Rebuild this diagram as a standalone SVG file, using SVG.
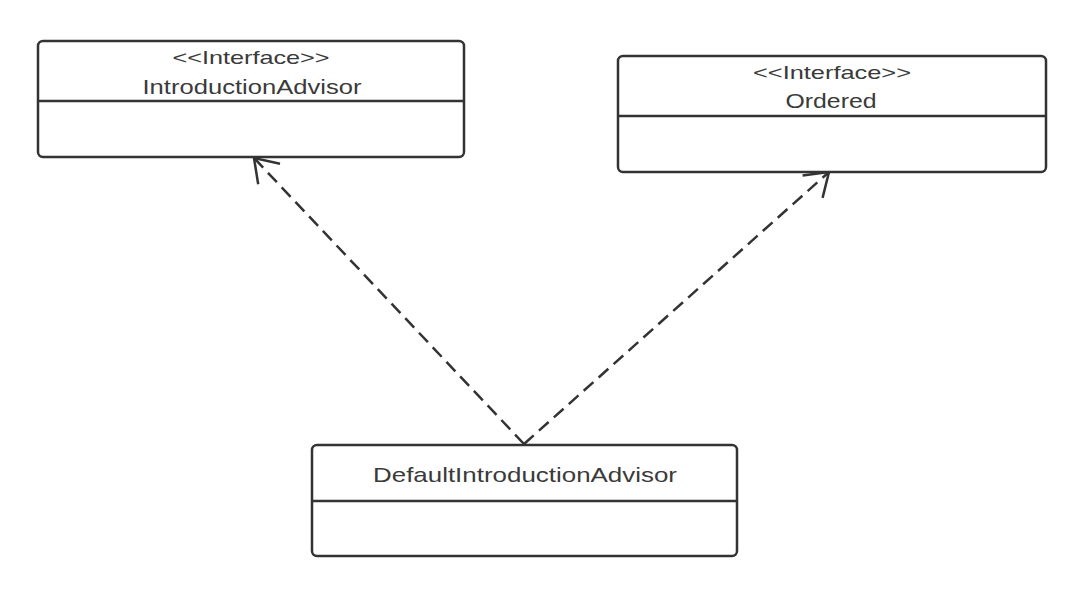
<svg xmlns="http://www.w3.org/2000/svg" width="1068" height="606" viewBox="0 0 1068 606">
<style>
.box{fill:#fff;stroke:#333;stroke-width:2.5}
.div{stroke:#333;stroke-width:2.5}
.t{font-family:"Liberation Sans",Arial,sans-serif;font-size:20px;fill:#3a3a3a;text-anchor:middle}
.st{font-size:18.5px}
.edge{fill:none;stroke:#333;stroke-width:2.5;stroke-dasharray:13 7}
</style>
<defs>
<marker id="open" markerUnits="userSpaceOnUse" markerWidth="40" markerHeight="40" viewBox="-30 -20 40 40" refX="0" refY="0" orient="auto">
<path d="M -22 -15 L 0 0 L -22 15" fill="none" stroke="#333" stroke-width="2.5" stroke-linejoin="miter"/>
</marker>
</defs>
<rect width="1068" height="606" fill="#fff"/>
<g id="connectors">
<line class="edge" x1="524" y1="444" x2="254" y2="158" marker-end="url(#open)"/>
<line class="edge" x1="524" y1="444" x2="829" y2="172" marker-end="url(#open)"/>
</g>
<g id="IntroductionAdvisor">
<rect class="box" x="38" y="41" width="426" height="116" rx="5"/>
<line class="div" x1="38" y1="101" x2="464" y2="101"/>
<text class="t st" x="251" y="64" textLength="157" lengthAdjust="spacingAndGlyphs">&lt;&lt;Interface&gt;&gt;</text>
<text class="t" x="252" y="94" textLength="219" lengthAdjust="spacingAndGlyphs">IntroductionAdvisor</text>
</g>
<g id="Ordered">
<rect class="box" x="618" y="56" width="428" height="116" rx="5"/>
<line class="div" x1="618" y1="116" x2="1046" y2="116"/>
<text class="t st" x="832" y="79" textLength="158" lengthAdjust="spacingAndGlyphs">&lt;&lt;Interface&gt;&gt;</text>
<text class="t" x="831" y="108" textLength="91" lengthAdjust="spacingAndGlyphs">Ordered</text>
</g>
<g id="DefaultIntroductionAdvisor">
<rect class="box" x="312" y="445" width="425" height="111" rx="5"/>
<line class="div" x1="312" y1="501" x2="737" y2="501"/>
<text class="t" x="525" y="482" textLength="304" lengthAdjust="spacingAndGlyphs" style="font-size:21px">DefaultIntroductionAdvisor</text>
</g>
</svg>
